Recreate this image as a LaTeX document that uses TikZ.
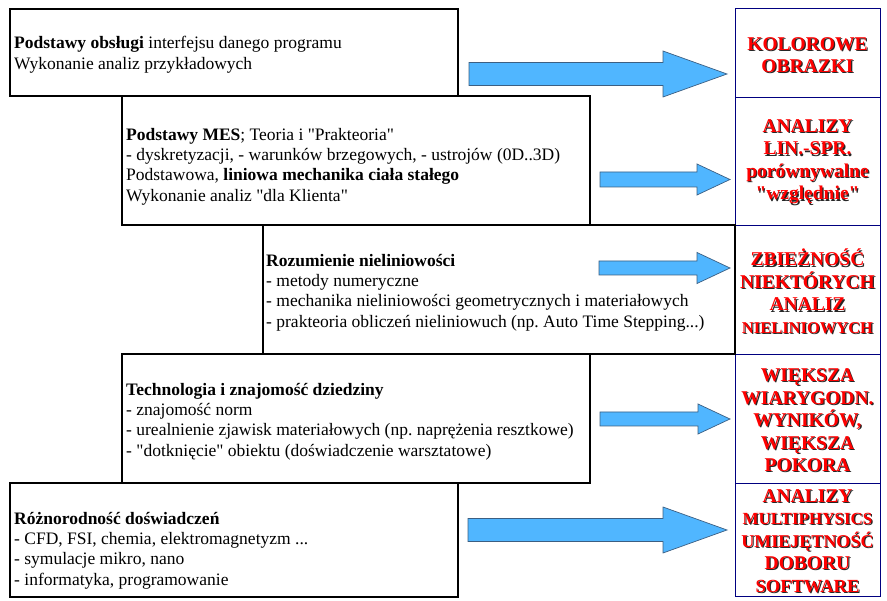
\documentclass[tikz,border=0pt]{standalone}
\usepackage{fontspec}
\setmainfont{Liberation Serif}[Ligatures=TeXOff]
\frenchspacing
\definecolor{arrowblue}{RGB}{80,182,255}
\definecolor{arrowedge}{RGB}{60,95,130}
\definecolor{cellnavy}{RGB}{0,0,128}
\newcommand{\shadowed}[1]{\rlap{\kern1.2pt\raisebox{-1.2pt}{\textcolor{black!85}{#1}}}\textcolor{red}{#1}}

\begin{document}
\begin{tikzpicture}[x=1pt,y=-1pt,
  stage/.style={draw=black,line width=2pt,fill=white},
  cell/.style={draw=cellnavy,line width=0.9pt,fill=white},
  blockarrow/.style={draw=arrowedge,line width=0.7pt,fill=arrowblue},
  desc/.style={anchor=north west,inner sep=0pt,align=left,font=\fontsize{17.5}{20.3}\selectfont},
  effect/.style={inner sep=0pt,align=center,font=\fontsize{19.5}{22.5}\selectfont\bfseries}]
\useasboundingbox (0,0) rectangle (887,601);

  % results column
  \draw[cell] (735,8) rectangle (880,97);
  \draw[cell] (735,97) rectangle (880,225);
  \draw[cell] (735,225) rectangle (880,354);
  \draw[cell] (735,354) rectangle (880,483);
  \draw[cell] (735,483) rectangle (880,596);

  % stages
  \draw[stage] (10,9) rectangle (458,96);
  \draw[stage] (122,96) rectangle (590,225);
  \draw[stage] (263,225) rectangle (735,354);
  \draw[stage] (122,354) rectangle (590,483);
  \draw[stage] (10,483) rectangle (458,597);

  \draw[blockarrow] (469,62.5)--(663,62.5)--(663,51)--(727,74)--(663,97)--(663,85.5)--(469,85.5)--cycle;
  \draw[blockarrow] (600,172)--(697,172)--(697,164)--(730,179.5)--(697,195)--(697,187)--(600,187)--cycle;
  \draw[blockarrow] (599,261)--(697,261)--(697,252.5)--(730,268)--(697,283.5)--(697,275)--(599,275)--cycle;
  \draw[blockarrow] (600,412)--(698,412)--(698,404)--(730,419)--(698,434)--(698,426)--(600,426)--cycle;
  \draw[blockarrow] (468,518.5)--(663,518.5)--(663,507)--(727,530)--(663,553)--(663,541.5)--(468,541.5)--cycle;

  \node[desc,font=\fontsize{17.5}{21.2}\selectfont] (basics) at (14,36) {\textbf{Podstawy obsługi} interfejsu danego programu\\
    Wykonanie analiz przykładowych};
  \node[desc] (fem) at (126,128) {\textbf{Podstawy MES}; Teoria i "Prakteoria"\\
    - dyskretyzacji, - warunków brzegowych, - ustrojów (0D..3D)\\
    Podstawowa, \textbf{liniowa mechanika ciała stałego}\\
    Wykonanie analiz "dla Klienta"};
  \node[desc] (nonlin) at (266,254) {\textbf{Rozumienie nieliniowości}\\
    - metody numeryczne\\
    - mechanika nieliniowości geometrycznych i materiałowych\\
    - prakteoria obliczeń nieliniowuch (np. Auto Time Stepping...)};
  \node[desc] (tech) at (126,383) {\textbf{Technologia i znajomość dziedziny}\\
    - znajomość norm\\
    - urealnienie zjawisk materiałowych (np. naprężenia resztkowe)\\
    - "dotknięcie" obiektu (doświadczenie warsztatowe)};
  \node[desc] (variety) at (14,512) {\textbf{Różnorodność doświadczeń}\\
    - CFD, FSI, chemia, elektromagnetyzm ...\\
    - symulacje mikro, nano\\
    - informatyka, programowanie};

  \node[effect] (colour) at (807.5,55.5) {\shadowed{KOLOROWE}\\\shadowed{OBRAZKI}};
  \node[effect] (linear) at (807.5,162.5) {\shadowed{ANALIZY}\\\shadowed{LIN.-SPR.}\\
    \shadowed{porównywalne}\\\shadowed{"względnie"}};
  \node[effect] (converge) at (807.5,292) {\shadowed{ZBIEŻNOŚĆ}\\\shadowed{NIEKTÓRYCH}\\
    \shadowed{ANALIZ}\\{\fontsize{16.5}{22.5}\selectfont\shadowed{NIELINIOWYCH}}};
  \node[effect] (trust) at (807.5,421) {\shadowed{WIĘKSZA}\\\shadowed{WIARYGODN.}\\
    \shadowed{WYNIKÓW,}\\\shadowed{WIĘKSZA}\\\shadowed{POKORA}};
  \node[effect] (multi) at (807.5,541.5) {\shadowed{ANALIZY}\\{\fontsize{17}{22.5}\selectfont\shadowed{MULTIPHYSICS}}\\
    {\fontsize{18}{22.5}\selectfont\shadowed{UMIEJĘTNOŚĆ}}\\\shadowed{DOBORU}\\{\fontsize{18.5}{22.5}\selectfont\shadowed{SOFTWARE}}};
\end{tikzpicture}
\end{document}
